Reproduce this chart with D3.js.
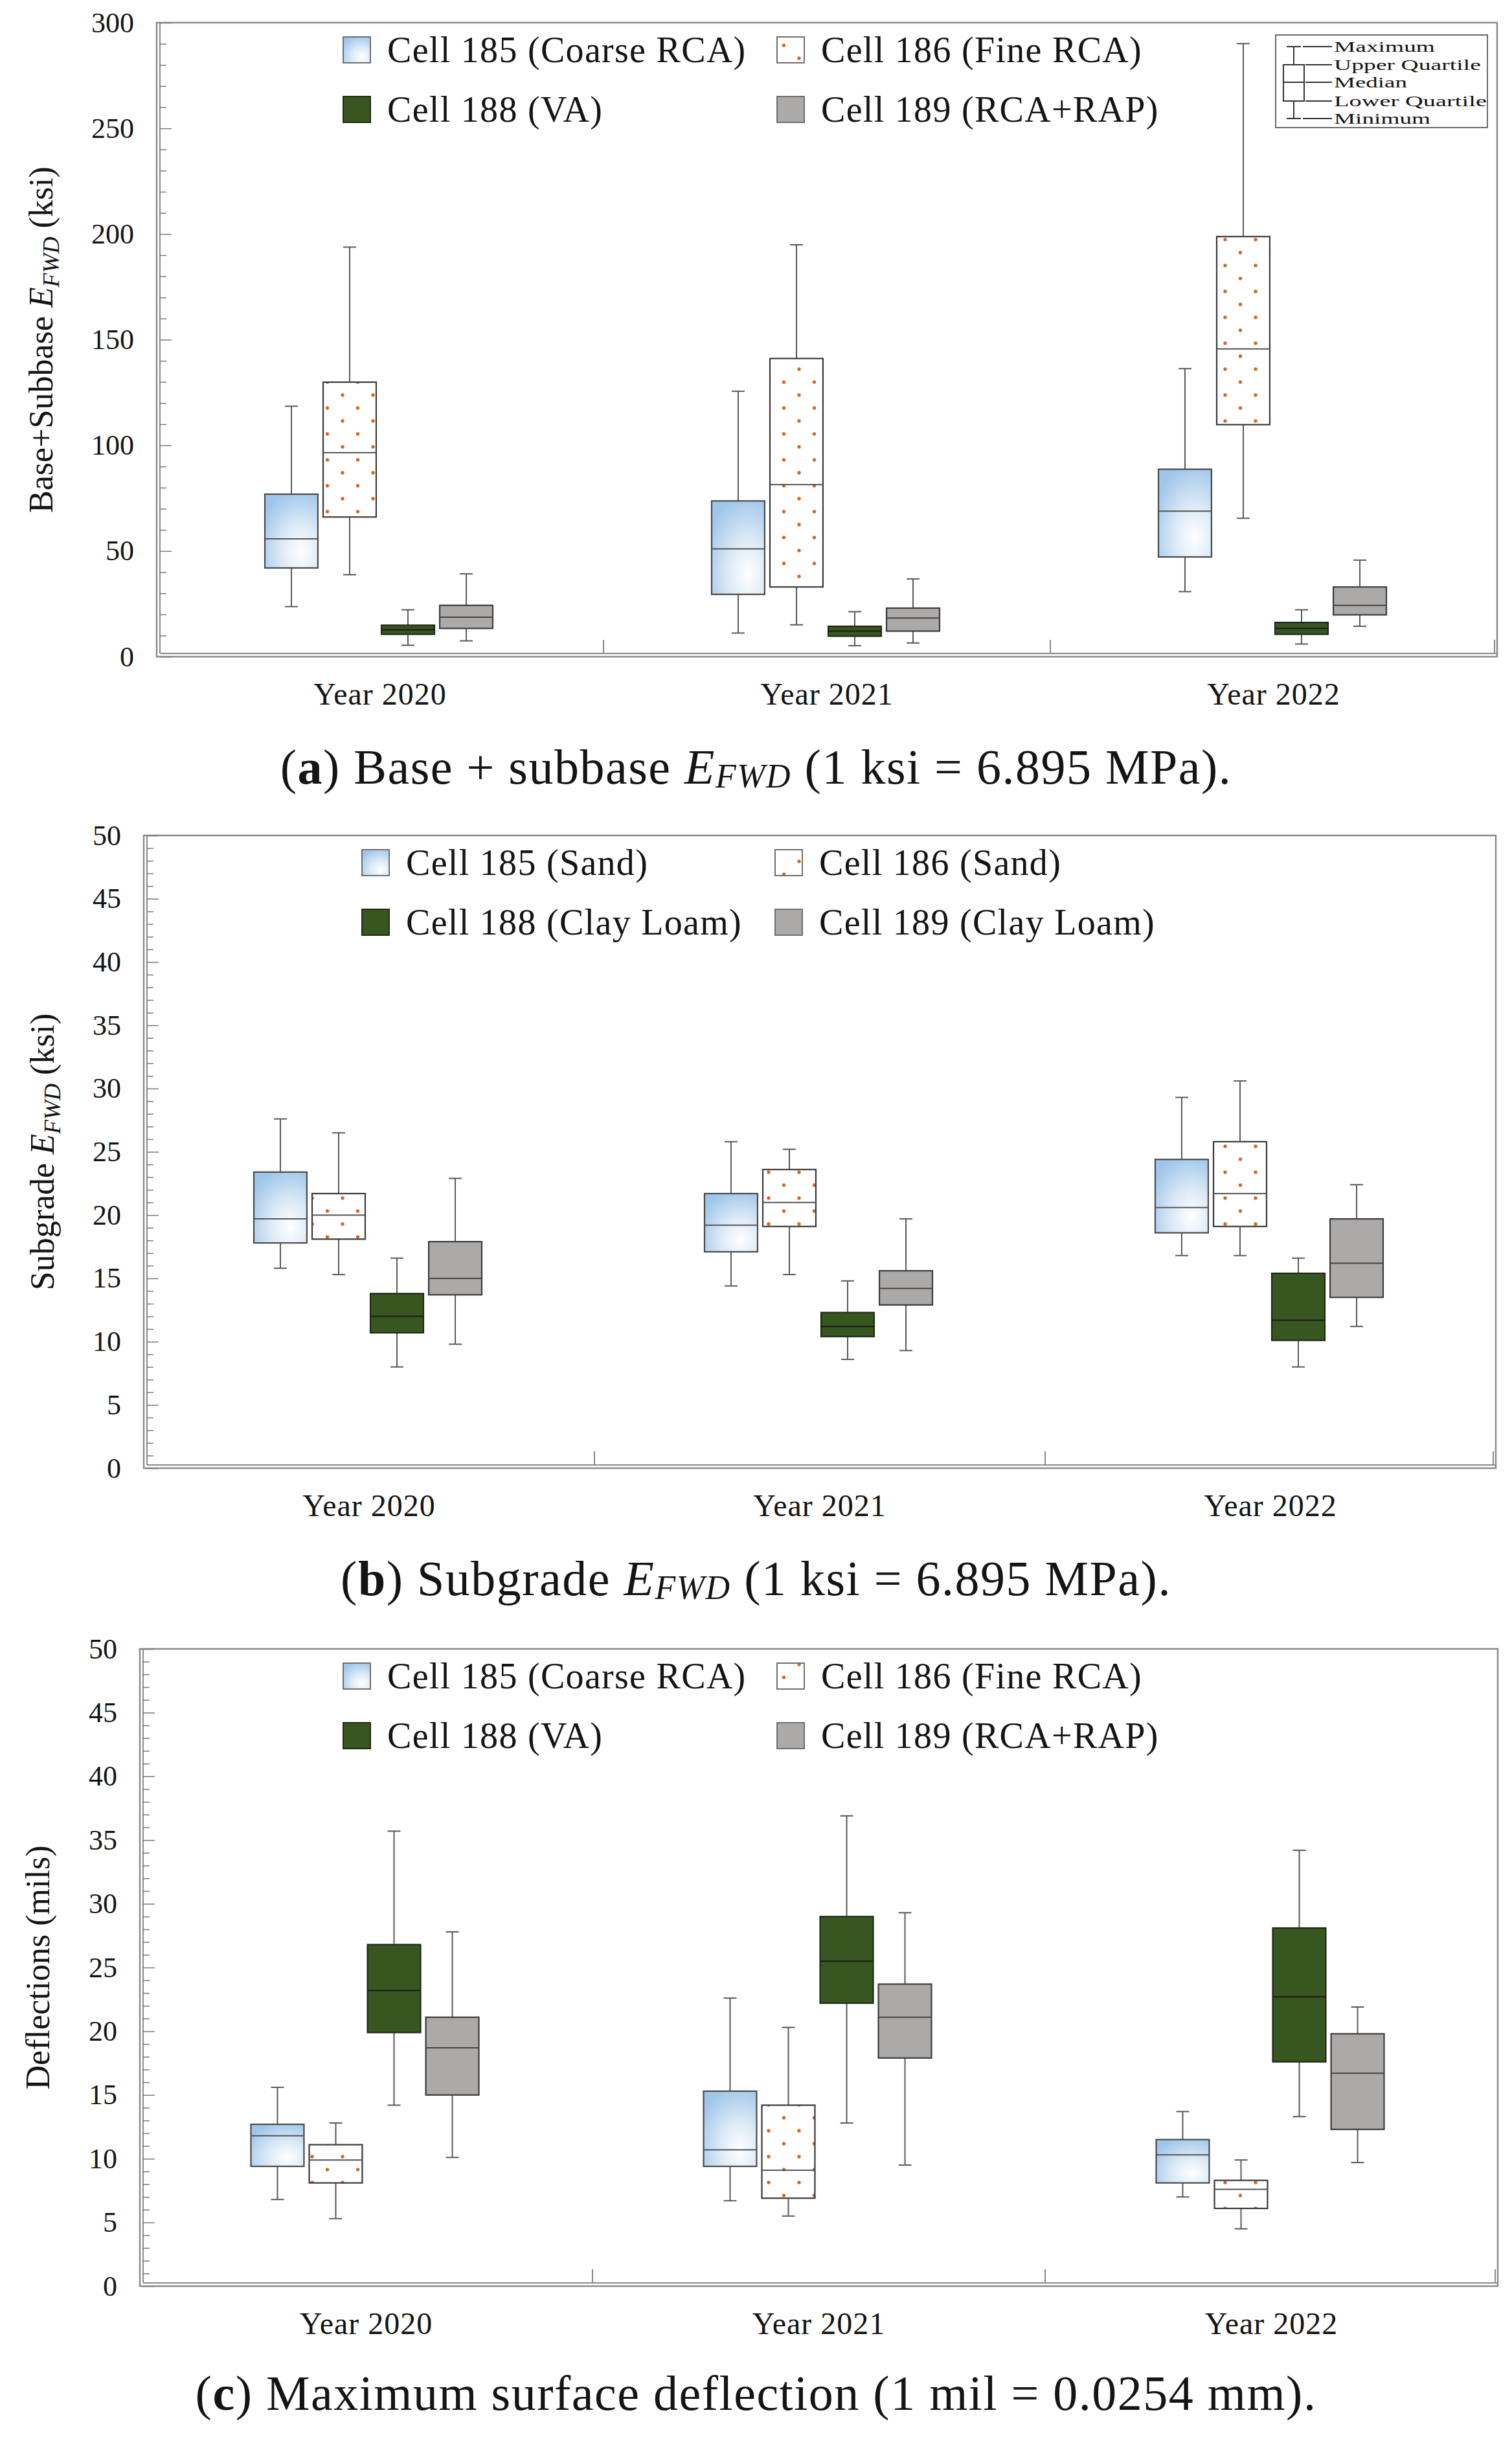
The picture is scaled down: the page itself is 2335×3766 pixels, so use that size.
<!DOCTYPE html>
<html lang="en">
<head>
<meta charset="UTF-8">
<title>EFWD and deflection box plots</title>
<script src="https://d3js.org/d3.v7.min.js"></script>
<style>
  body { margin: 0; background: #fff; }
  svg { display: block; }
  text { font-family: "Liberation Serif", "DejaVu Serif", serif; fill: #141414; }
</style>
</head>
<body>
<div id="chart"></div>
<script>
// categories
const yearLabels = ["Year 2020", "Year 2021", "Year 2022"];
const cellIds = ["185", "186", "188", "189"];
const legendBase = ["Cell 185 (Coarse RCA)", "Cell 186 (Fine RCA)", "Cell 188 (VA)", "Cell 189 (RCA+RAP)"];
const legendSub = ["Cell 185 (Sand)", "Cell 186 (Sand)", "Cell 188 (Clay Loam)", "Cell 189 (Clay Loam)"];
const boxKeyLabels = ["Maximum", "Upper Quartile", "Median", "Lower Quartile", "Minimum"];

// [min, lower quartile, median, upper quartile, max] for 2020, 2021, 2022
const baseC185 = [[23.7, 42.0, 55.8, 76.9, 118.5], [11.2, 29.5, 51.0, 73.7, 125.6], [30.8, 47.2, 68.9, 88.7, 136.3]];
const baseC186 = [[38.8, 66.1, 96.5, 129.9, 193.8], [15.1, 33.0, 81.4, 141.1, 194.9], [65.5, 109.8, 145.6, 198.8, 290.1]];
const baseC188 = [[5.4, 10.6, 12.7, 14.9, 22.2], [5.2, 9.7, 12.1, 14.4, 21.3], [6.0, 10.6, 13.4, 16.2, 22.2]];
const baseC189 = [[7.5, 13.4, 18.7, 24.3, 39.2], [6.5, 12.1, 18.3, 23.0, 36.8], [14.4, 19.8, 24.3, 33.0, 45.7]];

const subC185 = [[15.8, 17.8, 19.7, 23.4, 27.6], [14.4, 17.1, 19.2, 21.7, 25.8], [16.8, 18.6, 20.6, 24.4, 29.3]];
const subC186 = [[15.3, 18.1, 20.0, 21.7, 26.5], [15.3, 19.1, 21.0, 23.6, 25.2], [16.8, 19.1, 21.7, 25.8, 30.6]];
const subC188 = [[8.0, 10.7, 12.0, 13.8, 16.6], [8.6, 10.4, 11.2, 12.3, 14.8], [8.0, 10.1, 11.7, 15.4, 16.6]];
const subC189 = [[9.8, 13.7, 15.0, 17.9, 22.9], [9.3, 12.9, 14.2, 15.6, 19.7], [11.2, 13.5, 16.2, 19.7, 22.4]];

const defC185 = [[6.8, 9.4, 11.8, 12.7, 15.6], [6.7, 9.4, 10.7, 15.3, 22.6], [7.0, 8.1, 10.3, 11.5, 13.7]];
const defC186 = [[5.3, 8.1, 9.9, 11.1, 12.8], [5.5, 6.9, 9.1, 14.2, 20.3], [4.5, 6.1, 7.6, 8.3, 9.9]];
const defC188 = [[14.2, 19.9, 23.2, 26.8, 35.7], [12.8, 22.2, 25.5, 29.0, 36.9], [13.3, 17.6, 22.7, 28.1, 34.2]];
const defC189 = [[10.1, 15.0, 18.7, 21.1, 27.8], [9.5, 17.9, 21.1, 23.7, 29.3], [9.7, 12.3, 16.7, 19.8, 21.9]];

const W = 2335, H = 3766;
const svg = d3.select("#chart").append("svg").attr("width", W).attr("height", H);
svg.append("rect").attr("width", W).attr("height", H).attr("fill", "#fff");

// fills
const defs = svg.append("defs");
const grad = defs.append("radialGradient").attr("id", "blueFill")
  .attr("cx", 0.68).attr("cy", 0.78).attr("r", 0.85);
grad.append("stop").attr("offset", 0).attr("stop-color", "#ffffff");
grad.append("stop").attr("offset", 0.45).attr("stop-color", "#dbe9f6");
grad.append("stop").attr("offset", 1).attr("stop-color", "#9ec6ea");

const dots = defs.append("pattern").attr("id", "dotFill")
  .attr("patternUnits", "userSpaceOnUse").attr("width", 47).attr("height", 40);
dots.append("rect").attr("width", 47).attr("height", 40).attr("fill", "#fff");
dots.append("circle").attr("cx", 12).attr("cy", 10).attr("r", 2.7).attr("fill", "#d9661f");
dots.append("circle").attr("cx", 35.5).attr("cy", 30).attr("r", 2.7).attr("fill", "#d9661f");

const cellFill = {"185": "url(#blueFill)", "186": "url(#dotFill)", "188": "#38561f", "189": "#aca9a9"};
const cellStroke = {"185": "#4a4a4a", "186": "#3a3a3a", "188": "#1f2a17", "189": "#3c3c3c"};
const medianStroke = {"185": "#555", "186": "#555", "188": "#1a1a1a", "189": "#444"};

const panels = [
  {left: 242, right: 2312, top: 35, bottom: 1014, max: 300, major: 50, minor: 10, labX: 63,
   ylab: ["Base+Subbase ", "E", "FWD", " (ksi)"], legend: legendBase, legX: [530, 1200],
   data: [baseC185, baseC186, baseC188, baseC189], key: true},
  {left: 222, right: 2310, top: 1290, bottom: 2267, max: 50, major: 5, minor: 1, labX: 65,
   ylab: ["Subgrade ", "E", "FWD", " (ksi)"], legend: legendSub, legX: [559, 1197],
   data: [subC185, subC186, subC188, subC189], key: false},
  {left: 216, right: 2313, top: 2546, bottom: 3530, max: 50, major: 5, minor: 1, labX: 58,
   ylab: ["Deflections (mils)"], legend: legendBase, legX: [530, 1200],
   data: [defC185, defC186, defC188, defC189], key: false}
];

panels.forEach(p => {
  const g = svg.append("g");
  const y = d3.scaleLinear().domain([0, p.max]).range([p.bottom, p.top]);
  const x = d3.scaleBand().domain(yearLabels).range([p.left, p.right]);
  const xi = d3.scaleBand().domain(cellIds).range([-178, 174]).paddingInner(0.09);

  // frame with doubled left and bottom lines
  g.append("rect").attr("x", p.left).attr("y", p.top)
    .attr("width", p.right - p.left).attr("height", p.bottom - p.top)
    .attr("fill", "none").attr("stroke", "#8a8a8a").attr("stroke-width", 2.5);
  g.append("line").attr("x1", p.left + 5).attr("x2", p.left + 5).attr("y1", p.top).attr("y2", p.bottom - 5)
    .attr("stroke", "#8a8a8a").attr("stroke-width", 2);
  g.append("line").attr("x1", p.left + 5).attr("x2", p.right).attr("y1", p.bottom - 5).attr("y2", p.bottom - 5)
    .attr("stroke", "#8a8a8a").attr("stroke-width", 2);

  // y ticks
  const minorTicks = d3.range(0, p.max + 0.001, p.minor).filter(v => Math.abs(v % p.major) > 1e-6 && Math.abs(v % p.major - p.major) > 1e-6);
  g.append("g").attr("transform", `translate(${p.left + 5},0)`)
    .call(d3.axisRight(y).tickValues(minorTicks).tickSize(10).tickFormat(""))
    .call(a => a.select(".domain").remove())
    .call(a => a.selectAll("line").attr("stroke", "#7a7a7a").attr("stroke-width", 1.5));
  g.append("g").attr("transform", `translate(${p.left + 5},0)`)
    .call(d3.axisLeft(y).tickValues(d3.range(0, p.max + 0.001, p.major)).tickSize(-18).tickPadding(40))
    .call(a => a.select(".domain").remove())
    .call(a => a.selectAll("line").attr("stroke", "#7a7a7a").attr("stroke-width", 1.5))
    .call(a => a.selectAll("text").attr("font-size", 44).attr("font-family", "Liberation Serif").attr("fill", "#141414"));

  // category separators and labels
  g.selectAll(".sep").data(yearLabels.slice(1).concat(["end"])).join("line")
    .attr("x1", (d, i) => i < 2 ? x(d) : p.right - 4).attr("x2", (d, i) => i < 2 ? x(d) : p.right - 4)
    .attr("y1", p.bottom - 5).attr("y2", p.bottom - 26)
    .attr("stroke", "#8a8a8a").attr("stroke-width", 2);
  g.selectAll(".yr").data(yearLabels).join("text")
    .attr("x", d => x(d) + x.bandwidth() / 2).attr("y", p.bottom + 74)
    .attr("text-anchor", "middle").attr("font-size", 48).attr("letter-spacing", 1).text(d => d);

  // y label
  const yl = g.append("text").attr("transform", `translate(${p.labX + 18},${(p.top + p.bottom) / 2}) rotate(-90)`)
    .attr("text-anchor", "middle").attr("font-size", 52);
  if (p.ylab.length > 1) {
    yl.append("tspan").text(p.ylab[0]);
    yl.append("tspan").attr("font-style", "italic").text(p.ylab[1]);
    yl.append("tspan").attr("font-style", "italic").attr("font-size", 36).attr("dy", 10).text(p.ylab[2]);
    yl.append("tspan").attr("dy", -10).text(p.ylab[3]);
  } else {
    yl.text(p.ylab[0]);
  }

  // boxes
  cellIds.forEach((c, ci) => {
    const series = p.data[ci];
    const bw = xi.bandwidth();
    const cg = g.append("g");
    series.forEach((s, yi) => {
      const cx = x(yearLabels[yi]) + x.bandwidth() / 2 + xi(c) + bw / 2;
      const bx = cx - bw / 2;
      // whiskers
      cg.append("line").attr("x1", cx).attr("x2", cx).attr("y1", y(s[4])).attr("y2", y(s[3]))
        .attr("stroke", "#5a5a5a").attr("stroke-width", 2);
      cg.append("line").attr("x1", cx).attr("x2", cx).attr("y1", y(s[1])).attr("y2", y(s[0]))
        .attr("stroke", "#5a5a5a").attr("stroke-width", 2);
      [s[0], s[4]].forEach(v => cg.append("line").attr("x1", cx - 10).attr("x2", cx + 10)
        .attr("y1", y(v)).attr("y2", y(v)).attr("stroke", "#5a5a5a").attr("stroke-width", 2));
      cg.append("rect").attr("x", bx).attr("y", y(s[3])).attr("width", bw).attr("height", y(s[1]) - y(s[3]))
        .attr("fill", cellFill[c]).attr("stroke", cellStroke[c]).attr("stroke-width", 2.2);
      cg.append("line").attr("x1", bx).attr("x2", bx + bw).attr("y1", y(s[2])).attr("y2", y(s[2]))
        .attr("stroke", medianStroke[c]).attr("stroke-width", 2);
    });
  });

  // legend
  const rows = [p.top + 42, p.top + 134];
  p.legend.forEach((lab, i) => {
    const lx = p.legX[i % 2], ly = rows[Math.floor(i / 2)];
    g.append("rect").attr("x", lx).attr("y", ly - 20).attr("width", 42).attr("height", 40)
      .attr("fill", cellFill[cellIds[i]]).attr("stroke", i === 2 ? "#1f2a17" : "#6f6f6f").attr("stroke-width", 2);
    g.append("text").attr("x", lx + 68).attr("y", ly + 19).attr("font-size", 56)
      .attr("letter-spacing", 1.3).text(lab);
  });

  // box key
  if (p.key) {
    const k = g.append("g");
    k.append("rect").attr("x", 1970).attr("y", 54).attr("width", 327).attr("height", 143)
      .attr("fill", "#fff").attr("stroke", "#6a6a6a").attr("stroke-width", 2);
    const ky = [72, 100, 127, 156, 183];
    const kw = [156, 227, 113, 236, 149];
    k.append("line").attr("x1", 1998).attr("x2", 1998).attr("y1", ky[0]).attr("y2", ky[4]).attr("stroke", "#333").attr("stroke-width", 2);
    [ky[0], ky[4]].forEach(v => k.append("line").attr("x1", 1987).attr("x2", 2009).attr("y1", v).attr("y2", v)
      .attr("stroke", "#333").attr("stroke-width", 2));
    k.append("rect").attr("x", 1982).attr("y", ky[1]).attr("width", 32).attr("height", ky[3] - ky[1])
      .attr("fill", "#fff").attr("stroke", "#333").attr("stroke-width", 2);
    k.append("line").attr("x1", 1982).attr("x2", 2014).attr("y1", ky[2]).attr("y2", ky[2]).attr("stroke", "#333").attr("stroke-width", 2);
    boxKeyLabels.forEach((lab, i) => {
      k.append("line").attr("x1", (i === 0 || i === 4) ? 2012 : 2016).attr("x2", 2057)
        .attr("y1", ky[i]).attr("y2", ky[i]).attr("stroke", "#333").attr("stroke-width", 2);
      k.append("text").attr("x", 2060).attr("y", ky[i] + 8).attr("font-size", 23)
        .attr("textLength", kw[i]).attr("lengthAdjust", "spacingAndGlyphs").text(lab);
    });
  }
});

// captions
function caption(yPos, letter, parts) {
  const t = svg.append("text").attr("x", W / 2).attr("y", yPos).attr("text-anchor", "middle")
    .attr("font-size", 76).attr("letter-spacing", 1.5);
  t.append("tspan").text("(");
  t.append("tspan").attr("font-weight", "bold").text(letter);
  t.append("tspan").text(")" + parts[0]);
  if (parts.length > 1) {
    t.append("tspan").attr("font-style", "italic").text("E");
    t.append("tspan").attr("font-style", "italic").attr("font-size", 52).attr("dy", 6).text("FWD");
    t.append("tspan").attr("dy", -6).text(parts[1]);
  }
}
caption(1210, "a", [" Base + subbase ", " (1 ksi = 6.895 MPa)."]);
caption(2463, "b", [" Subgrade ", " (1 ksi = 6.895 MPa)."]);
caption(3721, "c", [" Maximum surface deflection (1 mil = 0.0254 mm)."]);
</script>
</body>
</html>
